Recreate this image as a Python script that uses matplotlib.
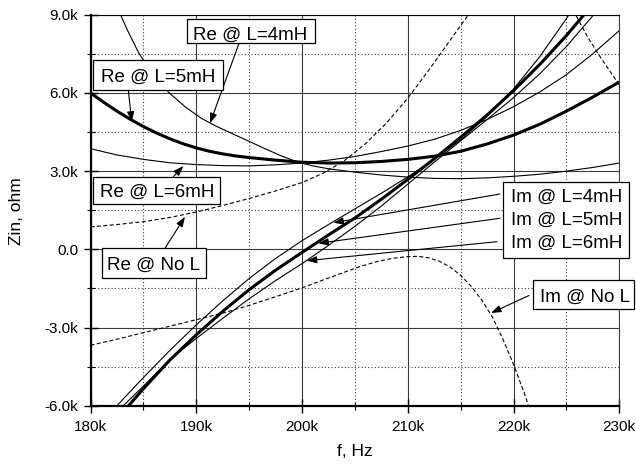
import matplotlib
matplotlib.use('Agg')
import matplotlib.pyplot as plt
from matplotlib.patches import Rectangle
from matplotlib.ticker import FixedLocator, FixedFormatter, MultipleLocator

plt.rcParams['font.family'] = ['Liberation Sans', 'DejaVu Sans']

# ---------------- data (frequency in kHz, impedance in kOhm) ----------------
f_re4 = [182.5, 183.5, 184.5, 185.5, 186.5, 187.5, 189, 190.5, 192, 193.5, 195, 196.5, 198,
         199.5, 201, 202.5, 205, 207.5, 210, 212.5, 215, 217.5, 220, 222.5, 225, 227.5, 230]
z_re4 = [9.3, 8.4, 7.58, 6.92, 6.4, 5.98, 5.45, 5.02, 4.7, 4.42, 4.14, 3.86, 3.59,
         3.36, 3.2, 3.09, 2.96, 2.85, 2.77, 2.72, 2.71, 2.74, 2.8, 2.88, 3.0, 3.14, 3.31]

f_re5 = [180, 181.25, 182.5, 183.75, 185, 186.25, 187.5, 188.75, 190, 191.25, 192.5, 193.75,
         195, 196.25, 197.5, 198.75, 200, 202.5, 205, 207.5, 210, 212.5, 215, 217.5, 220,
         222.5, 225, 227.5, 230]
z_re5 = [6.0, 5.64, 5.3, 4.99, 4.71, 4.46, 4.24, 4.05, 3.89, 3.76, 3.66, 3.58,
         3.52, 3.47, 3.42, 3.38, 3.34, 3.31, 3.32, 3.37, 3.45, 3.57, 3.76, 4.04, 4.38,
         4.8, 5.3, 5.84, 6.42]

f_re6 = [180, 182.5, 185, 187.5, 190, 192.5, 195, 197.5, 200, 202.5, 205, 207.5, 210,
         212.5, 215, 217.5, 220, 222.5, 225, 227.5, 230]
z_re6 = [3.86, 3.62, 3.45, 3.32, 3.25, 3.21, 3.2, 3.24, 3.31, 3.42, 3.56, 3.75, 3.96,
         4.22, 4.56, 4.98, 5.47, 6.04, 6.7, 7.5, 8.39]

f_renl = [180, 182.5, 185, 187.5, 190, 192.5, 195, 197.5, 200, 202, 204, 206, 208, 210,
          212, 214, 216, 218, 220, 222, 224, 225, 226, 227, 228, 229, 230]
z_renl = [0.86, 0.95, 1.06, 1.22, 1.43, 1.68, 1.95, 2.24, 2.56, 2.92, 3.4, 4.05, 4.85, 5.8,
          6.88, 8.02, 9.15, 10.15, 10.85, 11.1, 10.3, 9.65, 8.9, 8.15, 7.5, 6.9, 6.3]

f_im4 = [182, 182.5, 185, 187.5, 190, 192.5, 195, 197.5, 200, 202.5, 205, 207.5, 210,
         212.5, 215, 217.5, 220, 222.5, 225, 226]
z_im4 = [-6.2, -6.0, -4.92, -3.88, -2.9, -1.98, -1.12, -0.35, 0.33, 0.95, 1.55, 2.15, 2.78,
         3.45, 4.2, 5.1, 6.15, 7.4, 8.85, 9.5]

f_im5 = [183, 183.6, 185, 187.5, 190, 192.5, 195, 197.5, 200, 202.5, 205, 207.5, 210,
         212.5, 215, 217.5, 220, 222.5, 225, 227.5]
z_im5 = [-6.28, -6.0, -5.35, -4.25, -3.28, -2.38, -1.55, -0.8, -0.12, 0.55, 1.2, 1.92, 2.68,
         3.47, 4.3, 5.15, 6.09, 7.1, 8.2, 9.4]

f_im6 = [182.5, 183.1, 185, 187.5, 190, 192.5, 195, 197.5, 200, 202.5, 205, 207.5, 210,
         212.5, 215, 217.5, 220, 222.5, 225, 227.5, 228]
z_im6 = [-6.25, -6.0, -5.25, -4.23, -3.42, -2.65, -1.9, -1.2, -0.55, 0.15, 0.88, 1.66, 2.5,
         3.34, 4.16, 4.98, 5.82, 6.74, 7.78, 8.96, 9.2]

f_imnl = [180, 182.5, 185, 187.5, 190, 192.5, 195, 197.5, 200, 202.5, 204, 205.5, 207,
          208.5, 210, 211, 212, 213, 214, 215, 216, 217, 218, 219, 220, 221, 222]
z_imnl = [-3.68, -3.45, -3.2, -2.95, -2.7, -2.45, -2.15, -1.82, -1.48, -1.1, -0.88, -0.66,
          -0.48, -0.35, -0.28, -0.27, -0.33, -0.46, -0.68, -1.0, -1.42, -1.95, -2.6,
          -3.45, -4.42, -5.5, -6.7]

x_ticks = [180, 190, 200, 210, 220, 230]
x_labels = ['180k', '190k', '200k', '210k', '220k', '230k']
y_ticks = [-6, -3, 0, 3, 6, 9]
y_labels = ['-6.0k', '-3.0k', '0.0', '3.0k', '6.0k', '9.0k']

# ---------------- figure ----------------
W, H = 636, 467
fig = plt.figure(figsize=(W / 100, H / 100), dpi=100)
L, R, T, B = 90.5, 619.3, 14.7, 405.7
ax = fig.add_axes([L / W, 1 - B / H, (R - L) / W, (B - T) / H])

thin = dict(color='black', lw=0.8, solid_joinstyle='round')
thick = dict(color='black', lw=2.2, solid_joinstyle='round', solid_capstyle='butt')
dash = dict(color='black', lw=0.8, dashes=(3.6, 2.2))

ax.plot(f_re4, z_re4, **thin)
ax.plot(f_re6, z_re6, **thin)
ax.plot(f_re5, z_re5, **thick)
ax.plot(f_renl, z_renl, **dash)
ax.plot(f_im4, z_im4, **thin)
ax.plot(f_im6, z_im6, **thin)
ax.plot(f_im5, z_im5, **thick)
ax.plot(f_imnl, z_imnl, **dash)

ax.set_xlim(180, 230)
ax.set_ylim(-6, 9)
ax.xaxis.set_major_locator(FixedLocator(x_ticks))
ax.xaxis.set_major_formatter(FixedFormatter(x_labels))
ax.yaxis.set_major_locator(FixedLocator(y_ticks))
ax.yaxis.set_major_formatter(FixedFormatter(y_labels))
ax.xaxis.set_minor_locator(MultipleLocator(5))
ax.yaxis.set_minor_locator(MultipleLocator(1.5))

ax.set_axisbelow(True)
ax.grid(which='major', color='#3a3a3a', lw=0.8, ls='-')
ax.grid(which='minor', color='#3a3a3a', lw=0.8, ls=(0, (1, 2)))

ax.tick_params(which='major', direction='inout', length=10, width=1.0,
               labelsize=11, color='black')
ax.tick_params(which='minor', direction='inout', length=6, width=0.8, color='black')
ax.tick_params(axis='x', which='major', pad=5)
ax.tick_params(axis='y', which='major', pad=4)

for s in ['left', 'bottom']:
    ax.spines[s].set_linewidth(1.6)
ax.spines['top'].set_linewidth(0.8)
ax.spines['right'].set_linewidth(0.8)
ax.spines['right'].set_color('#404040')

fig.text(355 / W, 1 - 452 / H, 'f, Hz', ha='center', va='center', fontsize=12.5)
fig.text(16.7 / W, 1 - 211 / H, 'Zin, ohm', ha='center', va='center',
         rotation=90, fontsize=12.5)

# ---------------- annotations (figure pixel positions) ----------------
FS = 13.5


def box(x0, y0, x1, y1):
    ax.add_patch(Rectangle((x0 / W, 1 - y1 / H), (x1 - x0) / W, (y1 - y0) / H,
                           transform=fig.transFigure, fc='white', ec='black',
                           lw=0.9, clip_on=False, zorder=10))


def label(x, ybase, s):
    ax.text(x / W, 1 - ybase / H, s, transform=fig.transFigure, ha='left',
            va='baseline', fontsize=FS, zorder=11, clip_on=False)


def arrow(x0, y0, x1, y1):
    ax.annotate('', xy=(x1, H - y1), xytext=(x0, H - y0),
                xycoords='figure pixels', textcoords='figure pixels',
                annotation_clip=False, zorder=9,
                arrowprops=dict(arrowstyle='-|>,head_length=0.5,head_width=0.18',
                                lw=0.8, color='black', shrinkA=0, shrinkB=0,
                                mutation_scale=12))


arrow(239, 43.3, 210, 123.3)
arrow(128.3, 90, 131.7, 121.7)
arrow(173.3, 176.7, 183.3, 166)
arrow(165, 248.3, 185, 216.7)
arrow(500, 194, 333.3, 222.7)
arrow(500, 218.3, 318.3, 243.3)
arrow(497, 241.7, 306.7, 260.7)
arrow(529, 295.5, 491, 313)

box(186.7, 19.3, 315, 42.7)
label(192.7, 39.5, 'Re @ L=4mH')
box(93.3, 60, 223.3, 90)
label(100.7, 81.7, 'Re @ L=5mH')
box(93.3, 176.7, 220, 204)
label(100, 197.3, 'Re @ L=6mH')
box(101.7, 248.3, 206, 278.3)
label(106.7, 270, 'Re @ No L')
box(502.7, 181.7, 629.3, 257.7)
label(510.7, 202.3, 'Im @ L=4mH')
label(510.7, 225, 'Im @ L=5mH')
label(510.7, 248.3, 'Im @ L=6mH')
box(533.3, 280, 634, 309.3)
label(540, 302.3, 'Im @ No L')

fig.savefig('out.png', dpi=100)
